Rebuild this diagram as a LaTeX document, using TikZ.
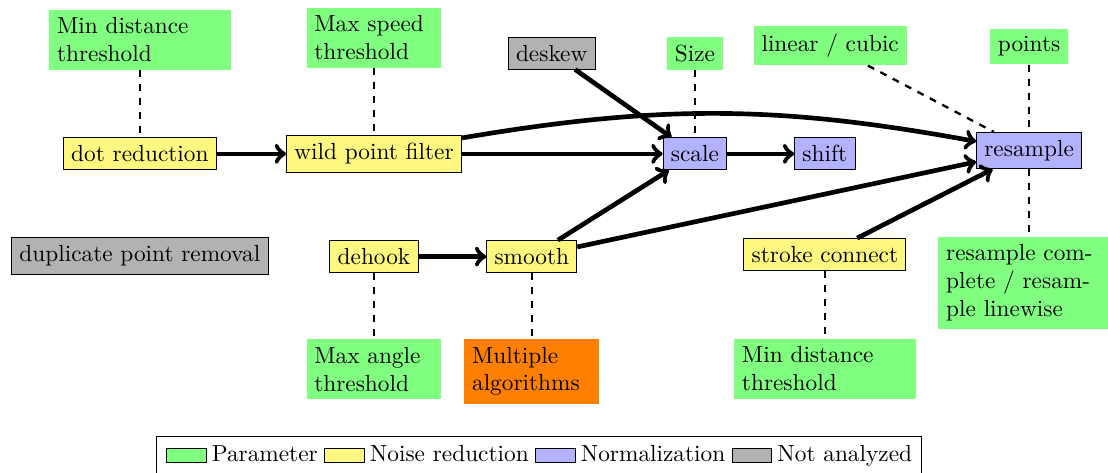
\documentclass[tikz,border=0pt]{standalone}
\usepackage{tikz}
\usetikzlibrary{arrows, positioning, fit}

\begin{document}
\begin{tikzpicture}[node distance=2cm,
		param/.style={fill=green!50, align=left},
		noise/.style={draw, fill=yellow!50},
		norm/.style={draw, fill=blue!30},
		skipped/.style={draw, fill=gray!60},
		flow/.style={->, line width=2pt},
		link/.style={dashed, line width=1pt},
		legsw/.style={draw, minimum width=0.6cm, minimum height=0.2cm, inner sep=0pt},
		legtxt/.style={inner sep=0pt, text height=1.5ex, text depth=.25ex}]
			\useasboundingbox (-2.11,-4.81) rectangle (14.60,2.32);

			\node[noise] (dotred) {dot reduction};
			\node[noise] (wild) [right of=dotred, node distance=3.53cm] {wild point filter};
			\node[norm] (scale) [right of=wild, node distance=4.84cm] {scale};
			\node[norm] (shift) [right of=scale, node distance=1.96cm] {shift};
			\node[norm] (resample) [right of=shift, node distance=3.08cm, yshift=0.05cm] {resample};

			\node[param, text width=2.5cm] (mindist) [above of=dotred, node distance=1.72cm] {Min distance threshold};
			\node[param, text width=1.8cm] (maxspeed) [above of=wild, node distance=1.75cm] {Max speed threshold};
			\node[skipped] (deskew) [above of=scale, node distance=1.52cm, xshift=-2.16cm] {deskew};
			\node[param] (size) [above of=scale, node distance=1.51cm] {Size};
			\node[param] (interp) [above of=resample, node distance=1.58cm, xshift=-3.0cm] {linear / cubic};
			\node[param] (points) [above of=resample, node distance=1.57cm] {points};

			\node[skipped] (duprem) [below of=dotred, node distance=1.54cm] {duplicate point removal};
			\node[noise] (dehook) [below of=wild, node distance=1.55cm] {dehook};
			\node[noise] (smooth) [right of=dehook, node distance=2.38cm] {smooth};
			\node[noise] (connect) [below of=shift, node distance=1.52cm] {stroke connect};
			\node[param, text width=2.5cm] (resmode) [below of=resample, node distance=2.0cm] {resample complete / resample linewise};

			\node[param, text width=1.8cm] (maxangle) [below of=dehook, node distance=1.70cm] {Max angle threshold};
			\node[fill=orange, align=left, text width=1.8cm] (multi) [below of=smooth, node distance=1.73cm] {Multiple algorithms};
			\node[param, text width=2.5cm] (mindist2) [below of=connect, node distance=1.72cm] {Min distance threshold};

			\path[flow]
			(dotred) edge (wild)
			(wild) edge (scale)
			(wild) edge[bend left=10] (resample)
			(deskew) edge (scale)
			(smooth) edge (scale)
			(scale) edge (shift)
			(dehook) edge (smooth)
			(smooth) edge (resample)
			(connect) edge (resample);

			\path[link]
			(mindist) edge (dotred)
			(maxspeed) edge (wild)
			(size) edge (scale)
			(interp) edge (resample)
			(points) edge (resample)
			(resample) edge (resmode)
			(dehook) edge (maxangle)
			(smooth) edge (multi)
			(connect) edge (mindist2);

			% legend
			\node[legsw, fill=green!50] (lgparam) at (0.70,-4.55) {};
			\node[legtxt] (ltparam) [right=2pt of lgparam] {Parameter};
			\node[legsw, fill=yellow!50] (lgnoise) [right=2.5pt of ltparam] {};
			\node[legtxt] (ltnoise) [right=2pt of lgnoise] {Noise reduction};
			\node[legsw, fill=blue!30] (lgnorm) [right=2.5pt of ltnoise] {};
			\node[legtxt] (ltnorm) [right=2pt of lgnorm] {Normalization};
			\node[legsw, fill=gray!60] (lgskip) [right=2.5pt of ltnorm] {};
			\node[legtxt] (ltskip) [right=2pt of lgskip] {Not analyzed};
			\node[draw, fit=(lgparam)(ltparam)(ltskip), inner sep=4pt] (legend) {};
		\end{tikzpicture}
\end{document}
